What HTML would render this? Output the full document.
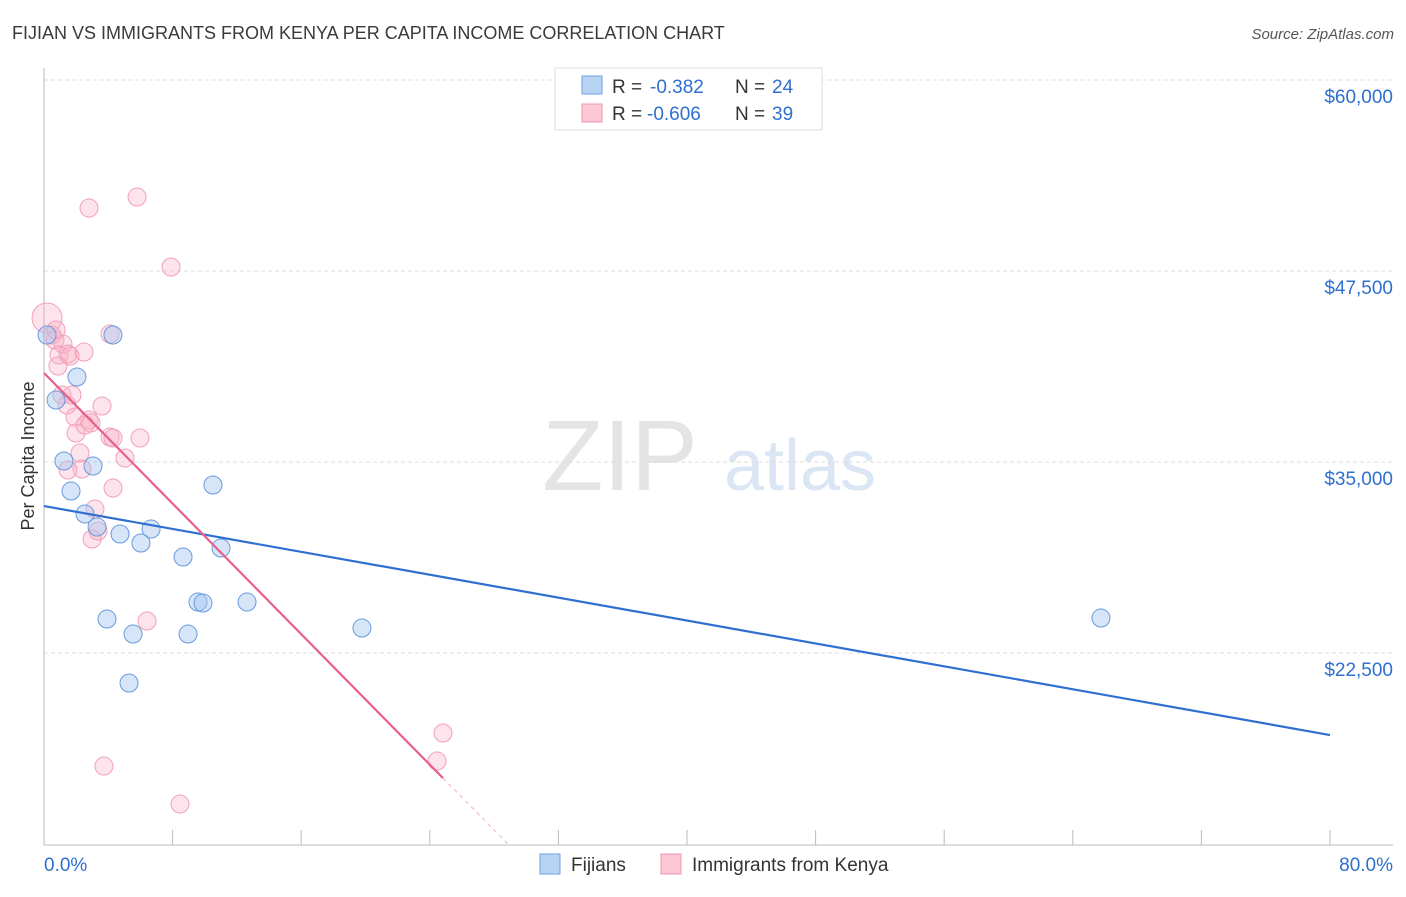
<!DOCTYPE html>
<html><head><meta charset="utf-8"><style>
body{margin:0;background:#fff;font-family:"Liberation Sans",sans-serif;}
svg text{font-family:"Liberation Sans",sans-serif;}
</style></head><body>
<svg id="c" width="1406" height="892">
<text x="12" y="39" font-size="18" fill="#3a3a3a">FIJIAN VS IMMIGRANTS FROM KENYA PER CAPITA INCOME CORRELATION CHART</text>
<text x="1394" y="39" font-size="15" fill="#555" font-style="italic" text-anchor="end">Source: ZipAtlas.com</text>
<text x="620" y="490" font-size="100" fill="#e4e4e4" font-family="Liberation Serif" text-anchor="middle">ZIP</text>
<text x="800" y="490" font-size="72" fill="#dbe6f5" text-anchor="middle">atlas</text>
<text transform="translate(34,456) rotate(-90)" font-size="18" fill="#333" text-anchor="middle">Per Capita Income</text>
<g id="grid"></g><g id="pts"></g><g id="lines"></g>
<g>
<rect x="555" y="68" width="267" height="62" fill="#fff" stroke="#ddd"/>
<rect x="582" y="76" width="20" height="18" fill="#b8d4f5" stroke="#6f9fdc"/>
<rect x="582" y="104" width="20" height="18" fill="#fcc8d6" stroke="#f094b0"/>
<text y="93" font-size="19" fill="#333"><tspan x="612">R =</tspan><tspan x="650" fill="#2f6fd0">-0.382</tspan><tspan x="735">N =</tspan><tspan x="772" fill="#2f6fd0">24</tspan></text>
<text y="120" font-size="19" fill="#333"><tspan x="612">R =</tspan><tspan x="647" fill="#2f6fd0">-0.606</tspan><tspan x="735">N =</tspan><tspan x="772" fill="#2f6fd0">39</tspan></text>
</g>
<g>
<rect x="540" y="854" width="20" height="20" fill="#b8d4f5" stroke="#6f9fdc"/>
<text x="571" y="871" font-size="19" fill="#333">Fijians</text>
<rect x="661" y="854" width="20" height="20" fill="#fcc8d6" stroke="#f094b0"/>
<text x="692" y="871" font-size="19" fill="#333">Immigrants from Kenya</text>
</g>
<text x="44" y="871" font-size="19" fill="#2f6fd0">0.0%</text>
<text x="1393" y="871" font-size="19" fill="#2f6fd0" text-anchor="end">80.0%</text>
</svg>
<script>
const yTicks=[60000,47500,35000,22500];
const yTickLabels=["$60,000","$47,500","$35,000","$22,500"];
const fijiX=[0.19,4.29,2.05,0.75,1.24,3.05,1.68,2.55,3.30,4.73,6.66,6.03,10.51,11.01,8.65,9.58,9.89,12.63,3.92,5.54,8.96,19.78,5.29,65.75];
const fijiY=[43310,43310,40561,39055,35064,34737,33100,31595,30744,30286,30613,29697,33493,29370,28781,25835,25770,25835,24723,23741,23741,24134,20535,24788];
const kenyaX=[0.19,0.5,0.68,1.18,0.93,1.49,1.62,2.49,0.87,1.12,1.43,3.61,1.93,2.80,2.92,1.99,4.11,5.97,2.24,5.04,2.36,1.49,3.17,2.99,4.29,3.36,4.11,2.80,5.79,7.90,6.41,24.82,24.45,3.73,8.46,2.55,1.74,0.75,4.29];
const kenyaY=[44423,43310,42983,42721,42001,42067,41936,42198,41281,39383,38729,38663,37943,37747,37551,36896,36634,36569,35587,35260,34540,34475,31922,29959,33296,30482,43376,51622,52342,47761,24592,17262,15429,15101,12614,37420,39383,43638,36569];
const fijiTrend=[[0,32118],[80,17130]];
const kenyaTrend=[[0,40823],[24.82,14316]];
const kenyaDash=[[24.82,14316],[29,9851]];
const NS="http://www.w3.org/2000/svg";
const sx=p=>44+p*16.075, sy=v=>80+(60000-v)*15.28/1000;
function mk(t,a,parent){const e=document.createElementNS(NS,t);for(const k in a)e.setAttribute(k,a[k]);document.getElementById(parent).appendChild(e);return e;}
yTicks.forEach((v,i)=>{
 const l=mk('line',{x1:44,x2:1393,y1:sy(v),y2:sy(v),stroke:'#ddd','stroke-dasharray':'4,3'},'grid');
 
 
 const t=mk('text',{x:1393,y:sy(v)+23,'font-size':19,fill:'#2f6fd0','text-anchor':'end'},'grid');
 t.textContent=yTickLabels[i];
 
 
});
const ax=mk('line',{x1:44,x2:44,y1:68,y2:845,stroke:'#bbb'},'grid');


const bx=mk('line',{x1:44,x2:1393,y1:845,y2:845,stroke:'#bbb'},'grid');


for(let p=0;p<=80;p+=8){const t=mk('line',{x1:sx(p),x2:sx(p),y1:830,y2:845,stroke:'#bbb'},'grid');
 
 }
kenyaX.forEach((x,i)=>{const c=mk('circle',{cx:sx(x),cy:sy(kenyaY[i]),r:i==0?15:9,fill:'rgba(248,175,198,0.35)',stroke:'#f2a0b8','stroke-width':1},'pts');
 
 });
fijiX.forEach((x,i)=>{const c=mk('circle',{cx:sx(x),cy:sy(fijiY[i]),r:9,fill:'rgba(165,198,240,0.45)',stroke:'#6a9ade','stroke-width':1},'pts');
 
 });
const l1=mk('line',{x1:sx(fijiTrend[0][0]),y1:sy(fijiTrend[0][1]),x2:sx(fijiTrend[1][0]),y2:sy(fijiTrend[1][1]),stroke:'#2f6fd0','stroke-width':2.2},'lines');


const l2=mk('line',{x1:sx(kenyaTrend[0][0]),y1:sy(kenyaTrend[0][1]),x2:sx(kenyaTrend[1][0]),y2:sy(kenyaTrend[1][1]),stroke:'#e8608a','stroke-width':2.2},'lines');


const l3=mk('line',{x1:sx(kenyaDash[0][0]),y1:sy(kenyaDash[0][1]),x2:sx(kenyaDash[1][0]),y2:sy(kenyaDash[1][1]),stroke:'#f0b0c4','stroke-width':1,'stroke-dasharray':'4,4'},'lines');


</script>
</body></html>
